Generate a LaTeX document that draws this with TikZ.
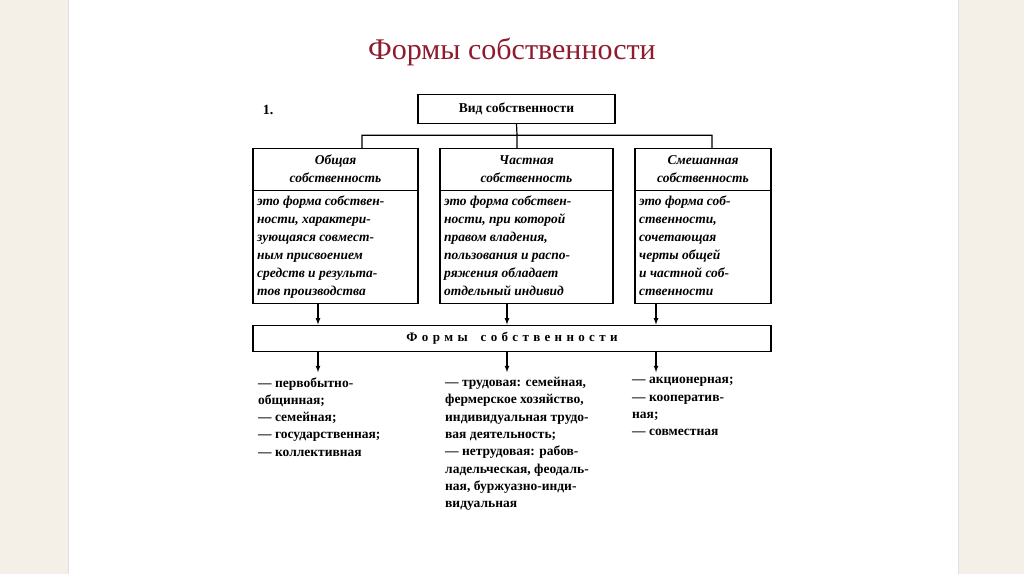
\documentclass[tikz,border=0pt]{standalone}
\usepackage{fontspec}
\setmainfont{Liberation Serif}
\usetikzlibrary{positioning}
\definecolor{slidebg}{HTML}{F4EFE7}
\definecolor{titlered}{HTML}{8E1B2E}

\begin{document}
\begin{tikzpicture}[x=1pt,y=-1pt,
    box/.style={draw,line width=1.3pt,inner sep=0pt},
    head/.style={align=center,font=\fontsize{13.5}{18}\selectfont\bfseries\itshape},
    body/.style={align=left,font=\fontsize{13.5}{18}\selectfont\bfseries\itshape,anchor=north west,inner sep=0pt},
    list/.style={align=left,font=\fontsize{13.5}{17.3}\selectfont\bfseries,anchor=north west,inner sep=0pt},
    arr/.style={-latex,line width=1.2pt},
    ]
  \fill[slidebg] (0,0) rectangle (1024,574);
  \fill[white] (68,0) rectangle (958,574);
  \draw[black!12] (68,0) -- (68,574) (958,0) -- (958,574);
  \useasboundingbox (0,0) rectangle (1024,574);

  \node[titlered,font=\fontsize{30}{34}\selectfont] (title) at (512,52) {Формы собственности};
  \node[font=\fontsize{14}{16}\selectfont\bfseries] (num) at (268,110) {1.};

  % вид собственности
  \node[box,minimum width=197,minimum height=29,font=\fontsize{13.5}{16}\selectfont\bfseries] (vid) at (516.5,108.5) {Вид собственности};

  % три вида
  \draw[box] (253,148) rectangle (418,303);
  \draw[box] (440,148) rectangle (613,303);
  \draw[box] (635,148) rectangle (771,303);
  \draw[line width=1.3pt] (253,190) -- (418,190) (440,190) -- (613,190) (635,190) -- (771,190);
  \node[head] (obh) at (335.5,169) {Общая\\собственность};
  \node[head] (cha) at (526.5,169) {Частная\\собственность};
  \node[head] (sme) at (703,169) {Смешанная\\собственность};
  \coordinate (obtop) at (362,148);
  \coordinate (chtop) at (517,148);
  \coordinate (smtop) at (712,148);
  \coordinate (split) at (517,135);
  \draw[line width=1.2pt] (vid.south) -- (split) (obtop) |- (split) -| (smtop) (split) -- (chtop);

  \node[body] (obb) at (257,195) {это форма собствен-\\ности, характери-\\зующаяся совмест-\\ным присвоением\\средств и результа-\\тов производства};
  \node[body] (chb) at (444,195) {это форма собствен-\\ности, при которой\\правом владения,\\пользования и распо-\\ряжения обладает\\отдельный индивид};
  \node[body] (smb) at (639,195) {это форма соб-\\ственности,\\сочетающая\\черты общей\\и частной соб-\\ственности};

  % формы собственности
  \node[box,minimum width=518,minimum height=26,font=\fontsize{13}{16}\selectfont\bfseries] (formy) at (512,338)
    {Ф\,\,о\,\,р\,\,м\,\,ы\quad с\,\,о\,\,б\,\,с\,\,т\,\,в\,\,е\,\,н\,\,н\,\,о\,\,с\,\,т\,\,и};
  \coordinate (a1) at (318,303);
  \coordinate (a2) at (507,303);
  \coordinate (a3) at (656,303);
  \draw[arr] (a1) -- (a1 |- formy.north);
  \draw[arr] (a2) -- (a2 |- formy.north);
  \draw[arr] (a3) -- (a3 |- formy.north);
  \coordinate (b1) at (318,372);
  \coordinate (b2) at (507,372);
  \coordinate (b3) at (656,372);
  \draw[arr] (b1 |- formy.south) -- (b1);
  \draw[arr] (b2 |- formy.south) -- (b2);
  \draw[arr] (b3 |- formy.south) -- (b3);

  \node[list] (l1) at (258,377) {— первобытно-\\общинная;\\— семейная;\\— государственная;\\— коллективная};
  \node[list] (l2) at (445,377) {— трудовая: семейная,\\фермерское хозяйство,\\индивидуальная трудо-\\вая деятельность;\\— нетрудовая: рабов-\\ладельческая, феодаль-\\ная, буржуазно-инди-\\видуальная};
  \node[list] (l3) at (632,377) {— акционерная;\\— кооператив-\\ная;\\— совместная};
\end{tikzpicture}
\end{document}
